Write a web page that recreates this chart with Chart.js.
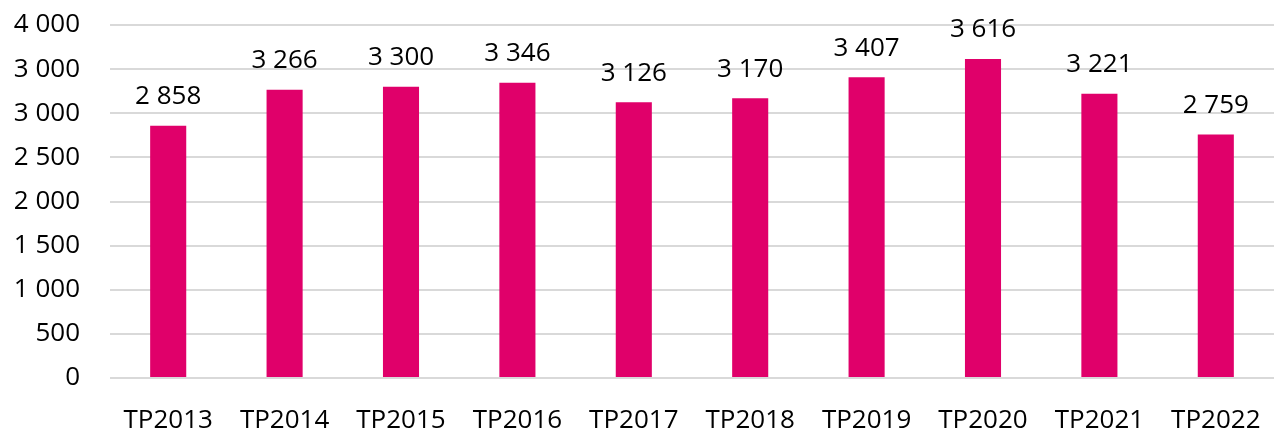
<!DOCTYPE html>
<html>
<head>
<meta charset="utf-8">
<script src="https://cdn.jsdelivr.net/npm/chart.js@4"></script>
<style>
  html, body { margin: 0; padding: 0; background: #fff; }
  #wrap { width: 1274px; height: 432px; }
</style>
</head>
<body>
<div id="wrap"><canvas id="dvCanvas" width="1274" height="432"></canvas></div>
<script>
var categories = ['TP2013', 'TP2014', 'TP2015', 'TP2016', 'TP2017', 'TP2018', 'TP2019', 'TP2020', 'TP2021', 'TP2022'];
var totals = [2858, 3266, 3300, 3346, 3126, 3170, 3407, 3616, 3221, 2759];
// tick labels as printed on the original (the 3 500 line really reads "3 000")
var tickLabels = ['0', '500', '1 000', '1 500', '2 000', '2 500', '3 000', '3 000', '4 000'];

var barColor = '#e0006a';
var textFont = "'Open Sans', 'Noto Sans', sans-serif";

function spaced(n) {
    return String(n).replace(/\B(?=(\d{3})+(?!\d))/g, ' ');
}

// value labels above each bar
var valueLabels = {
    id: 'valueLabels',
    afterDatasetsDraw: function (chart) {
        var ctx = chart.ctx;
        var meta = chart.getDatasetMeta(0);
        ctx.save();
        ctx.font = '26px ' + textFont;
        ctx.fillStyle = '#000';
        ctx.textAlign = 'center';
        ctx.textBaseline = 'middle';
        meta.data.forEach(function (bar, i) {
            ctx.fillText(spaced(totals[i]), bar.x, bar.y - 29);
        });
        ctx.restore();
    }
};

var ctx = document.getElementById('dvCanvas').getContext('2d');
var myChart = new Chart(ctx, {
    type: 'bar',
    data: {
        labels: categories,
        datasets: [{
            data: totals,
            backgroundColor: barColor,
            barPercentage: 0.31,
            categoryPercentage: 1
        }]
    },
    options: {
        responsive: false,
        animation: false,
        layout: { padding: { top: 25, right: 0, bottom: 0, left: 0 } },
        plugins: {
            legend: { display: false },
            tooltip: { enabled: false }
        },
        scales: {
            x: {
                grid: { display: false, drawTicks: false },
                border: { display: false },
                ticks: {
                    color: '#000',
                    font: { family: textFont, size: 26 },
                    padding: 27,
                    maxRotation: 0
                },
                afterFit: function (scale) {
                    scale.height = 54;
                    scale.paddingLeft = 0;
                    scale.paddingRight = 0;
                }
            },
            y: {
                min: 0,
                max: 4000,
                ticks: {
                    stepSize: 500,
                    color: '#000',
                    font: { family: textFont, size: 26 },
                    padding: 30,
                    callback: function (value, index) { return tickLabels[index]; }
                },
                grid: { color: '#d9d9d9', lineWidth: 2, drawTicks: false },
                border: { display: false },
                afterFit: function (scale) {
                    scale.width = 110;
                    scale.paddingTop = 0;
                    scale.paddingBottom = 0;
                }
            }
        }
    },
    plugins: [valueLabels]
});
</script>
</body>
</html>
